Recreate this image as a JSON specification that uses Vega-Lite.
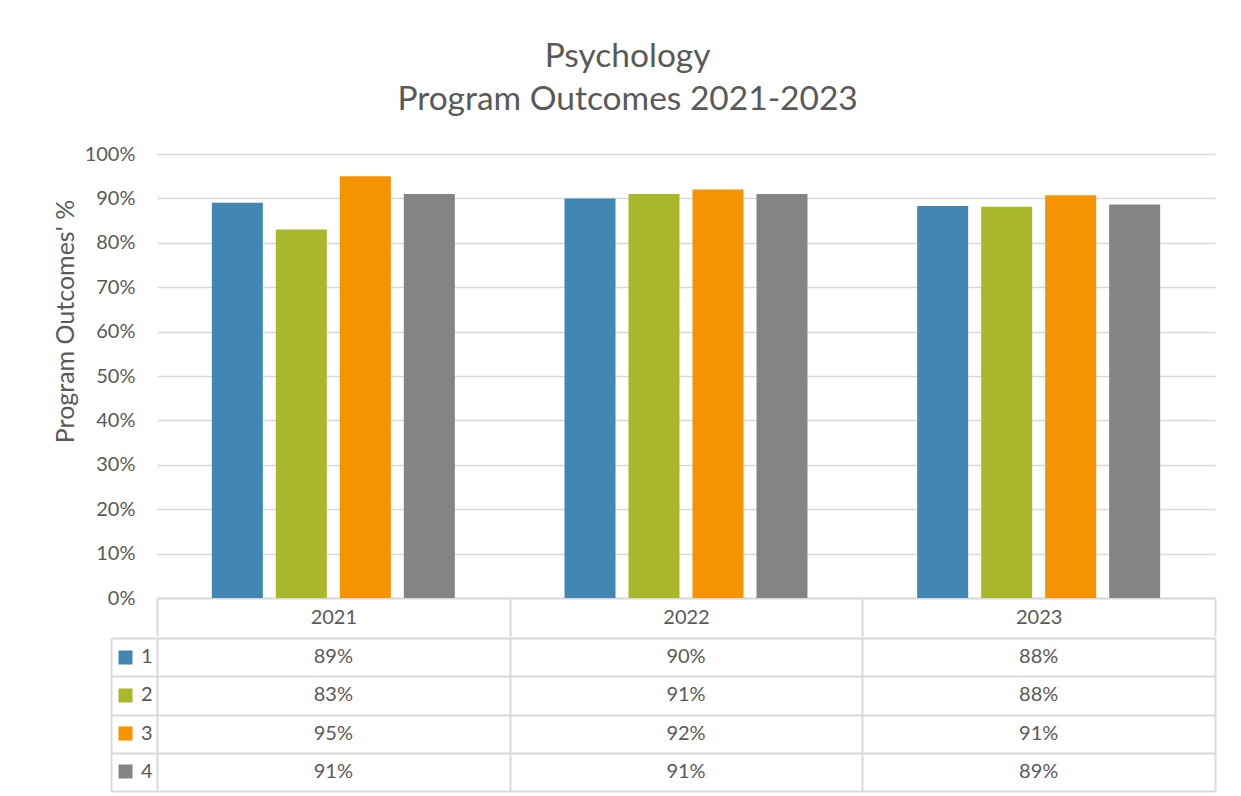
{
  "$schema": "https://vega.github.io/schema/vega-lite/v6.json",
  "padding": {"left": 53, "top": 39, "right": 5, "bottom": 5},
  "background": "white",
  "config": {
    "font": "Lato",
    "view": {"stroke": null},
    "axis": {"labelColor": "#595959", "titleColor": "#595959", "labelFont": "Lato", "titleFont": "Lato"}
  },
  "title": {
    "text": ["Psychology", "Program Outcomes 2021-2023"],
    "fontSize": 33.5, "font": "Lato", "fontWeight": "normal", "color": "#595959",
    "lineHeight": 43, "anchor": "middle", "frame": "bounds", "offset": 27, "dx": -7
  },
  "datasets": {
    "d": [
      {"year": "2021", "series": "1", "value": 0.89},
      {"year": "2021", "series": "2", "value": 0.83},
      {"year": "2021", "series": "3", "value": 0.95},
      {"year": "2021", "series": "4", "value": 0.91},
      {"year": "2022", "series": "1", "value": 0.90},
      {"year": "2022", "series": "2", "value": 0.91},
      {"year": "2022", "series": "3", "value": 0.92},
      {"year": "2022", "series": "4", "value": 0.91},
      {"year": "2023", "series": "1", "value": 0.883},
      {"year": "2023", "series": "2", "value": 0.881},
      {"year": "2023", "series": "3", "value": 0.907},
      {"year": "2023", "series": "4", "value": 0.886}
    ]
  },
  "spacing": 0,
  "vconcat": [
    {
      "width": 1058,
      "height": 444,
      "data": {"name": "d"},
      "mark": {"type": "bar"},
      "encoding": {
        "x": {
          "field": "year", "type": "nominal",
          "scale": {"paddingInner": 0, "paddingOuter": 0},
          "axis": {
            "title": null, "labelAngle": 0, "grid": false,
            "domainColor": "#d9d9d9", "domainWidth": 2,
            "tickBand": "extent", "tickSize": 38, "tickColor": "#d9d9d9", "tickWidth": 2,
            "labelPadding": -19, "labelBaseline": "middle", "labelFontSize": 20
          }
        },
        "xOffset": {
          "field": "series", "type": "nominal",
          "scale": {"paddingInner": 0.203, "paddingOuter": 0.857}
        },
        "y": {
          "field": "value", "type": "quantitative",
          "scale": {"domain": [0, 1]},
          "axis": {
            "values": [0, 0.1, 0.2, 0.3, 0.4, 0.5, 0.6, 0.7, 0.8, 0.9, 1],
            "format": ".0%",
            "title": "Program Outcomes' %", "titleFontSize": 25, "titleFontWeight": "normal", "titlePadding": 6,
            "titleY": 167,
            "domain": false, "ticks": false, "labelPadding": 22, "labelFontSize": 20,
            "gridColor": "#d9d9d9", "gridWidth": 1.5
          }
        },
        "color": {
          "field": "series", "type": "nominal",
          "scale": {"domain": ["1", "2", "3", "4"], "range": ["#4287b3", "#a8b82a", "#f69300", "#848484"]},
          "legend": null
        }
      }
    },
    {
      "width": 1058,
      "height": 153,
      "data": {"name": "d"},
      "layer": [
        {
          "mark": {"type": "text", "fontSize": 20, "color": "#595959", "font": "Lato"},
          "encoding": {
            "x": {
              "field": "year", "type": "nominal",
              "scale": {"paddingInner": 0, "paddingOuter": 0},
              "axis": {
                "title": null, "labels": false, "ticks": false, "domain": false,
                "grid": true, "tickBand": "extent", "gridColor": "#d9d9d9", "gridWidth": 2
              }
            },
            "y": {
              "field": "series", "type": "nominal",
              "scale": {"paddingInner": 0, "paddingOuter": 0},
              "axis": {
                "orient": "left", "title": null, "domain": false, "grid": false,
                "ticks": true, "tickSize": 39, "tickWidth": 14, "tickDash": [0, 25, 14, 100],
                "tickColor": {
                  "condition": [
                    {"test": "datum.value === '1'", "value": "#4287b3"},
                    {"test": "datum.value === '2'", "value": "#a8b82a"},
                    {"test": "datum.value === '3'", "value": "#f69300"}
                  ],
                  "value": "#848484"
                },
                "labelPadding": -34, "labelFontSize": 20, "labelBaseline": "middle"
              }
            },
            "text": {"field": "value", "type": "quantitative", "format": ".0%"}
          }
        },
        {
          "mark": {"type": "text", "opacity": 0},
          "encoding": {
            "y": {
              "field": "series", "type": "nominal",
              "axis": {
                "orient": "left", "title": null, "labels": false, "domain": false,
                "grid": true, "gridColor": "#d9d9d9", "gridWidth": 2,
                "tickBand": "extent", "ticks": true, "tickSize": 46, "tickColor": "#d9d9d9", "tickWidth": 2
              }
            }
          }
        },
        {
          "mark": {"type": "text", "opacity": 0},
          "encoding": {
            "y": {
              "field": "series", "type": "nominal",
              "axis": {
                "orient": "left", "title": null, "labels": false, "grid": false, "ticks": false,
                "offset": 46, "domain": true, "domainColor": "#d9d9d9", "domainWidth": 2
              }
            }
          }
        }
      ],
      "resolve": {"axis": {"y": "independent"}}
    }
  ]
}
